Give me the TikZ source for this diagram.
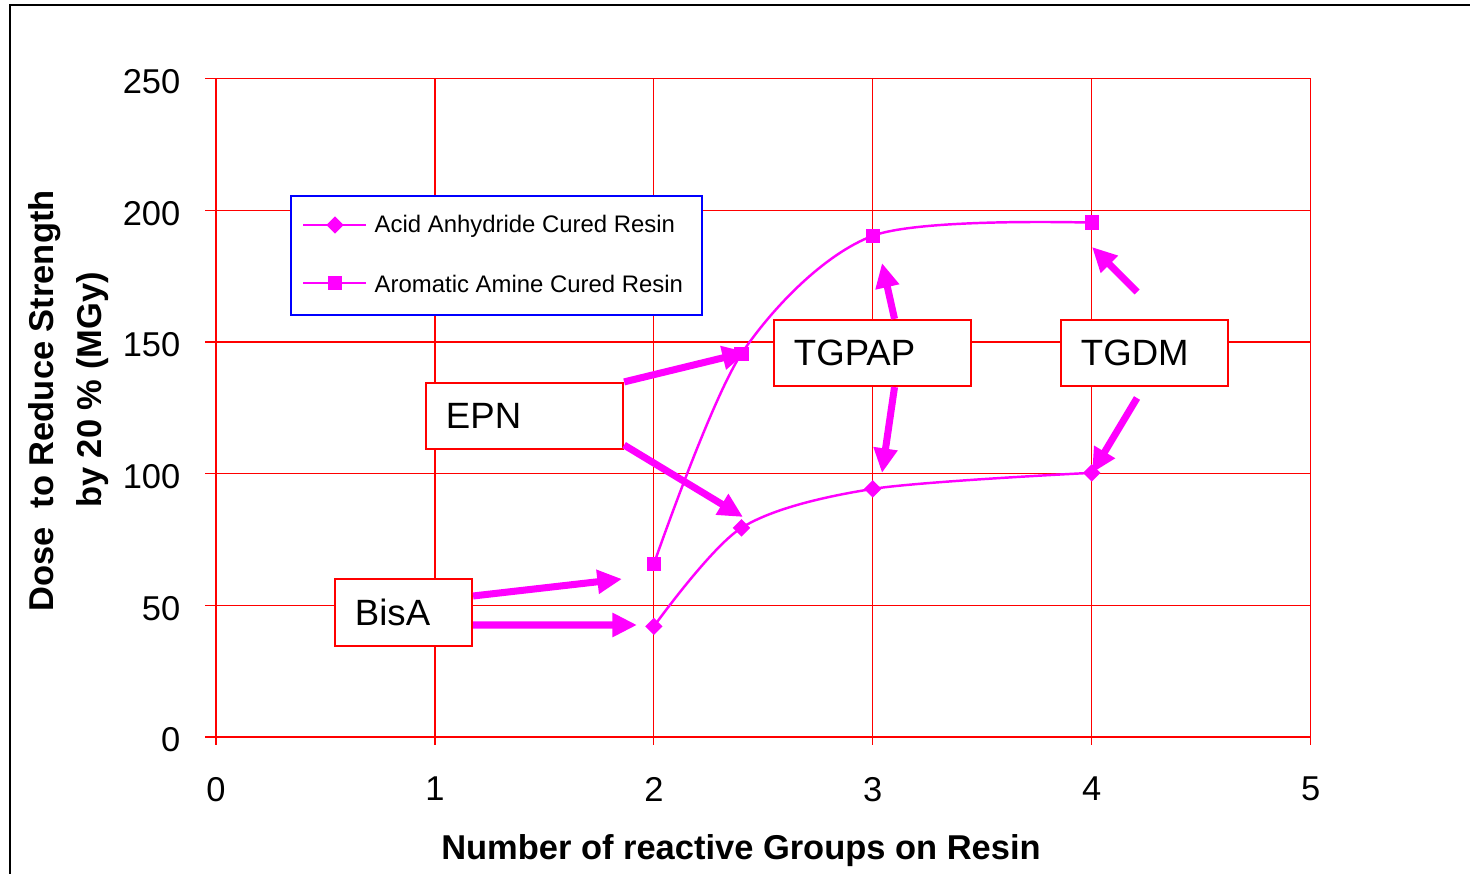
\documentclass[tikz,border=0pt]{standalone}
\usepackage{fontspec}
\setmainfont{Liberation Sans}
\usetikzlibrary{arrows.meta,plotmarks}

\definecolor{mag}{RGB}{255,0,255}

\tikzset{
  gridline/.style={red, line width=0.35pt},
  axisline/.style={red, line width=0.55pt},
  series/.style={mag, line width=0.7pt},
  tagbox/.style={draw=red, line width=0.6pt, fill=white, inner xsep=0.2cm, inner ysep=0pt,
    minimum height=0.66cm, align=left, font=\fontsize{10.4}{12}\selectfont},
  pointer/.style={mag, line width=2pt, -{Triangle[length=7pt,width=6.5pt]}},
  ticklabel/.style={inner sep=0pt, font=\fontsize{9.8}{12}\selectfont},
  axistitle/.style={inner sep=0pt, font=\fontsize{9.8}{12}\selectfont\bfseries},
  keytext/.style={inner sep=0pt, anchor=west, font=\fontsize{6.8}{8}\selectfont},
  amine/.style={series, mark=square*, mark size=1.7pt, mark options={fill=mag}},
  acid/.style={series, mark=square*, mark size=1.4pt, mark options={fill=mag, rotate=45}},
}

\begin{document}
\begin{tikzpicture}[x=0.01cm, y=-0.01cm]
\useasboundingbox (0,0) rectangle (1470,874);

\draw[line width=0.6pt] (1470,5) -- (10,5) -- (10,874);

% chart area, in data units
\begin{scope}[shift={(216,737)}, x=2.188cm, y=0.02632cm]
\foreach \yv in {50,100,...,250}
  \draw[gridline] (-0.05,\yv) -- (5,\yv);
\foreach \xv in {0,...,5}
  \draw[gridline] (\xv,-3) -- (\xv,250);
\draw[axisline] (-0.05,0) -- (5,0);

\foreach \yv in {0,50,...,250}
  \node[ticklabel, anchor=east] (ty\yv) at (-0.16,\yv-1.1) {\yv};
\foreach \xv in {0,...,5}
  \node[ticklabel] (tx\xv) at (\xv,-19.8) {\xv};

\draw[amine] plot[smooth] coordinates {(2,65.7) (2.4,145.5) (3,190.3) (4,195.3)};
\draw[acid] plot[smooth] coordinates {(2,42) (2.4,79.4) (3,94.2) (4,100.3)};
\end{scope}

\node[axistitle, anchor=base] (xtitle) at (741,860) {Number of reactive Groups on Resin};
\node[axistitle, anchor=base, rotate=90] (ytitle1) at (54,401) {Dose\ \ to Reduce Strength};
\node[axistitle, anchor=base, rotate=90] (ytitle2) at (101,390) {by 20 \% (MGy)};

% legend
\node[draw=blue, line width=0.45pt, fill=white, inner sep=0pt, minimum width=4.11cm, minimum height=1.19cm] (key) at (496.5,255.5) {};
\draw[acid, mark indices={2}] plot coordinates {(303,225) (335,225) (366,225)};
\draw[amine, mark indices={2}] plot coordinates {(303,283) (335,283) (366,283)};
\node[keytext] (keyA) at (374,226) {Acid Anhydride Cured Resin};
\node[keytext] (keyB) at (374,284) {Aromatic Amine Cured Resin};

% resin tags
\node[tagbox, text width=1.57cm] (epn) at (524.5,416) {EPN};
\node[tagbox, text width=1.57cm] (tgpap) at (872.5,353) {TGPAP};
\node[tagbox, text width=1.27cm] (tgdm) at (1144.5,353) {TGDM};
\node[tagbox, text width=0.97cm, minimum height=0.67cm] (bisa) at (403.5,612.5) {BisA};

\coordinate (epnA) at (747,352);
\coordinate (epnB) at (743,517);
\coordinate (tgpapA) at (882,263);
\coordinate (tgpapB) at (882,473);
\coordinate (tgdmA0) at (1137,292);
\coordinate (tgdmA) at (1092,247);
\coordinate (tgdmB0) at (1137,398);
\coordinate (tgdmB) at (1092,473);
\coordinate (bisaA) at (622,579);
\coordinate (bisaB) at (637,625);

\draw[pointer] (epn.north east) -- (epnA);
\draw[pointer] ([yshift=0.05cm]epn.south east) -- (epnB);
\draw[pointer] ([xshift=0.22cm]tgpap.north) -- (tgpapA);
\draw[pointer] ([xshift=0.22cm]tgpap.south) -- (tgpapB);
\draw[pointer] (tgdmA0) -- (tgdmA);
\draw[pointer] (tgdmB0) -- (tgdmB);
\draw[pointer] ([yshift=0.165cm]bisa.east) -- (bisaA);
\draw[pointer] ([yshift=-0.125cm]bisa.east) -- (bisaB);
\end{tikzpicture}
\end{document}
